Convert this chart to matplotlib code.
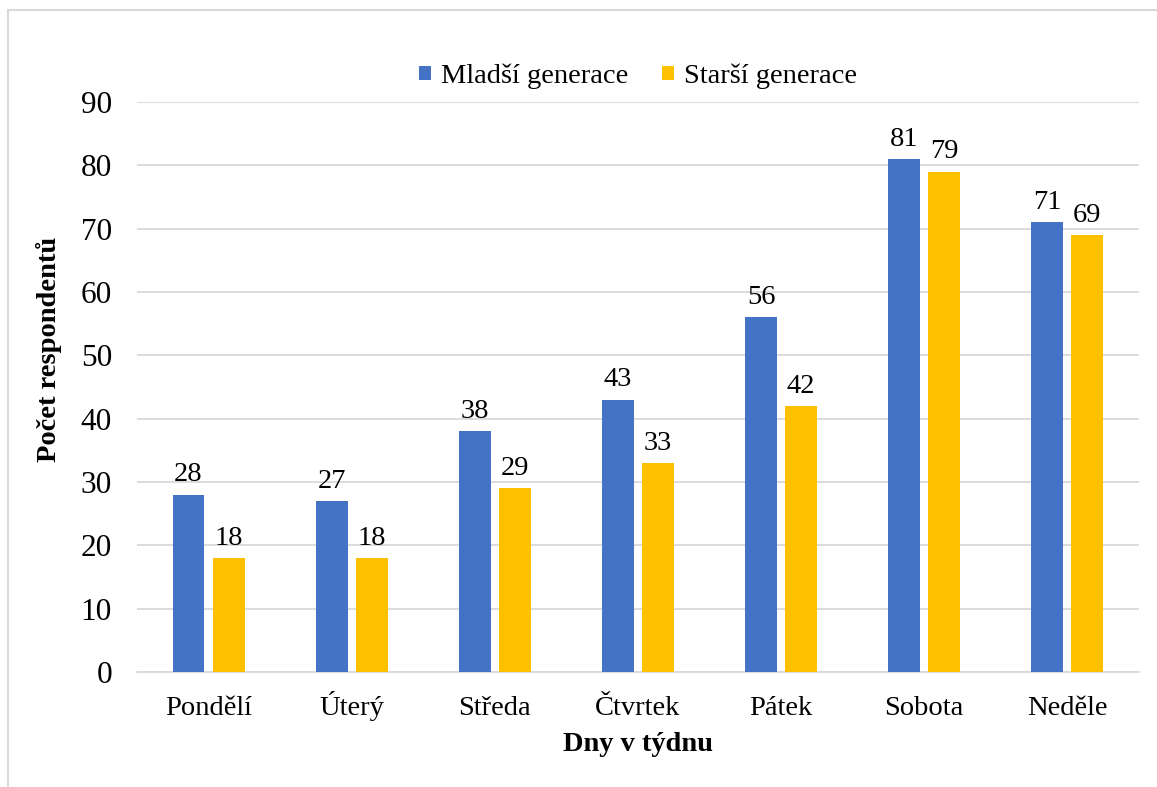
import numpy as np
import matplotlib.pyplot as plt
from matplotlib.patches import Rectangle

days = ['Pondělí', 'Úterý', 'Středa', 'Čtvrtek', 'Pátek', 'Sobota', 'Neděle']
mladsi = [28, 27, 38, 43, 56, 81, 71]
starsi = [18, 18, 29, 33, 42, 79, 69]
series_names = ['Mladší generace', 'Starší generace']

plt.rcParams['font.family'] = ['Liberation Serif', 'DejaVu Serif']
fs = 20.5

fig = plt.figure(figsize=(11.57, 7.87), dpi=100)
ax = fig.add_axes([0.1184, 0.1461, 0.9844 - 0.1184, 0.8704 - 0.1461])

# outer chart frame
fig.patches.append(Rectangle((8 / 1157, -0.05), 1.1, 1 - 10 / 787 + 0.05,
                             transform=fig.transFigure, fill=False,
                             edgecolor='#d9d9d9', linewidth=1.5))

x = np.arange(len(days))
w = 0.223
off = 0.14
b1 = ax.bar(x - off, mladsi, width=w, color='#4472c4', label=series_names[0], zorder=3)
b2 = ax.bar(x + off, starsi, width=w, color='#ffc000', label=series_names[1], zorder=3)

for bars in (b1, b2):
    for bar in bars:
        h = bar.get_height()
        ax.text(bar.get_x() + bar.get_width() / 2, h + 2.1, f'{int(h)}',
                ha='center', va='baseline', fontsize=fs)

ax.set_xlim(-0.5, len(days) - 0.5)
ax.set_ylim(0, 90)
ax.set_yticks(range(0, 91, 10))
ax.set_xticks(x)
ax.set_xticklabels(days)
for lbl in ax.get_xticklabels():
    lbl.set_verticalalignment('baseline')
ax.yaxis.grid(True, color='#d9d9d9', linewidth=1.3, zorder=0)
ax.set_axisbelow(True)
for s in ['top', 'right', 'left']:
    ax.spines[s].set_visible(False)
ax.spines['bottom'].set_color('#d9d9d9')
ax.spines['bottom'].set_linewidth(1.3)
ax.tick_params(axis='x', length=0, labelsize=fs, pad=31)
ax.tick_params(axis='y', length=0, labelsize=22.5, pad=18)

ax.set_xlabel('Dny v týdnu', fontweight='bold', fontsize=fs, labelpad=8)
ax.set_ylabel('Počet respondentů', fontweight='bold', fontsize=fs)
ax.yaxis.set_label_coords(-0.075, 0.566)

ax.legend(loc='center', bbox_to_anchor=(0.5, 1.045), ncol=2, frameon=False,
          handlelength=0.42, handleheight=0.42, handletextpad=0.35,
          columnspacing=1.2, fontsize=fs)

fig.savefig('out.png', dpi=100)
